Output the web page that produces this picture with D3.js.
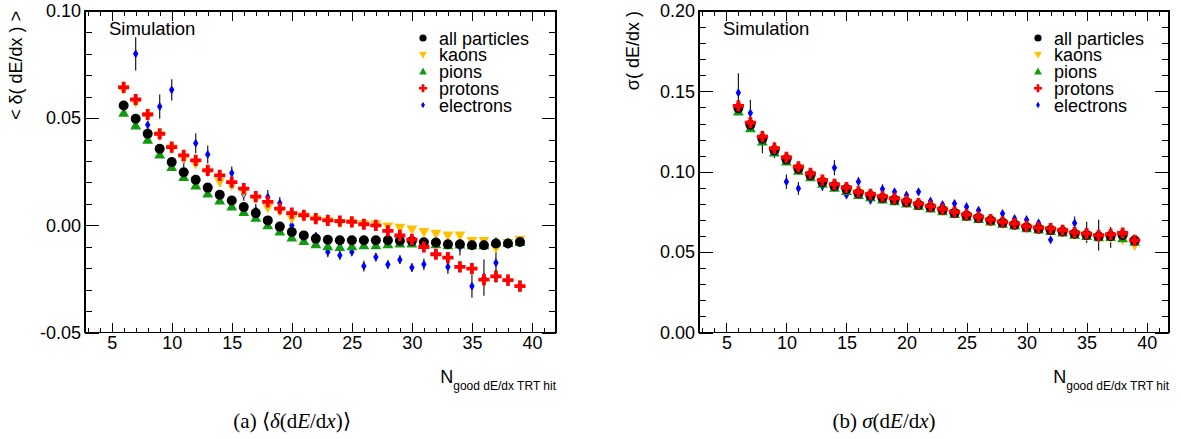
<!DOCTYPE html>
<html>
<head>
<meta charset="utf-8">
<script src="https://cdn.jsdelivr.net/npm/d3@7"></script>
<style>
  body { margin: 0; background: #fff; }
  svg { display: block; }
  text { font-family: "Liberation Sans", Arial, Helvetica, sans-serif; fill: #000; }
  .cap { font-family: "Liberation Serif", "Times New Roman", serif; }
</style>
</head>
<body>
<svg id="fig" width="1181" height="439"></svg>
<script>
// Number of good dE/dx TRT hits per track
const nHits = [6, 7, 8, 9, 10, 11, 12, 13, 14, 15, 16, 17, 18, 19, 20, 21, 22,
               23, 24, 25, 26, 27, 28, 29, 30, 31, 32, 33, 34, 35, 36, 37, 38, 39];

// (a) mean of delta(dE/dx)
const meanAll = [0.0559, 0.0497, 0.0427, 0.0357, 0.0295, 0.0248, 0.0213, 0.0176, 0.0143, 0.0116,
  0.0085, 0.0057, 0.0023, -0.0006, -0.0031, -0.0047, -0.0062, -0.0067, -0.0070, -0.0070,
  -0.0070, -0.0070, -0.0070, -0.0072, -0.0073, -0.0079, -0.0080, -0.0088, -0.0088, -0.0093,
  -0.0093, -0.0085, -0.0085, -0.0078];
const meanKaons = [0.0635, 0.0574, 0.0510, 0.0420, 0.0358, 0.0312, 0.0287, 0.0250, 0.0202, 0.0186,
  0.0155, 0.0124, 0.0082, 0.0067, 0.0031, 0.0042, 0.0027, 0.0020, 0.0011, 0.0011,
  0.0005, 0.0005, -0.0005, -0.0011, -0.0019, -0.0031, -0.0039, -0.0047, -0.0047, -0.0073,
  -0.0073, -0.0106, -0.0082, -0.0067];
const meanPions = [0.0525, 0.0466, 0.0399, 0.0331, 0.0272, 0.0225, 0.0186, 0.0148, 0.0116, 0.0088,
  0.0062, 0.0035, 0.0000, -0.0029, -0.0057, -0.0073, -0.0088, -0.0098, -0.0101, -0.0098,
  -0.0093, -0.0093, -0.0088, -0.0085, -0.0085, -0.0085, -0.0088, -0.0093, -0.0090, -0.0093,
  -0.0093, -0.0078, -0.0083, -0.0078];
const meanProtons = [0.0644, 0.0587, 0.0517, 0.0427, 0.0365, 0.0326, 0.0303, 0.0256, 0.0233, 0.0202,
  0.0171, 0.0134, 0.0109, 0.0078, 0.0057, 0.0047, 0.0031, 0.0023, 0.0020, 0.0016,
  0.0005, 0.0000, -0.0026, -0.0047, -0.0067, -0.0101, -0.0135, -0.0151, -0.0194, -0.0202,
  -0.0253, -0.0238, -0.0256, -0.0284];
const meanProtonsErr = [0.0008, 0.0008, 0.0008, 0.0008, 0.0008, 0.0008, 0.0008, 0.0009, 0.0009, 0.0009,
  0.0009, 0.0010, 0.0010, 0.0010, 0.0010, 0.0010, 0.0011, 0.0011, 0.0012, 0.0012,
  0.0013, 0.0013, 0.0014, 0.0015, 0.0016, 0.0018, 0.0020, 0.0022, 0.0024, 0.0026,
  0.0028, 0.0030, 0.0027, 0.0027];
const meanElectrons = [null, 0.0800, 0.0469, 0.0554, 0.0632, 0.0306, 0.0383, 0.0331, 0.0202, 0.0244,
  0.0145, 0.0070, 0.0132, 0.0104, 0.0000, null, -0.0051, -0.0124, -0.0140, -0.0124,
  -0.0190, -0.0148, -0.0183, -0.0160, -0.0197, -0.0182, null, -0.0194, -0.0101, -0.0284,
  -0.0244, -0.0175, null, null];
const meanElectronsErr = [null, 0.0078, 0.0025, 0.0057, 0.0050, 0.0035, 0.0047, 0.0042, 0.0020, 0.0030,
  0.0030, 0.0030, 0.0033, 0.0028, 0.0020, null, 0.0020, 0.0025, 0.0020, 0.0020,
  0.0025, 0.0020, 0.0020, 0.0020, 0.0020, 0.0027, null, 0.0033, 0.0040, 0.0054,
  0.0085, 0.0052, null, null];

// (b) width of delta(dE/dx)
const sigmaAll = [0.1396, 0.1292, 0.1205, 0.1133, 0.1077, 0.1019, 0.0978, 0.0937, 0.0911, 0.0892,
  0.0866, 0.0851, 0.0837, 0.0826, 0.0811, 0.0795, 0.0779, 0.0762, 0.0744, 0.0727,
  0.0713, 0.0697, 0.0683, 0.0671, 0.0655, 0.0646, 0.0638, 0.0628, 0.0614, 0.0607,
  0.0597, 0.0601, 0.0607, 0.0573];
const sigmaKaons = [0.1385, 0.1285, 0.1205, 0.1135, 0.1078, 0.1020, 0.0978, 0.0938, 0.0910, 0.0891,
  0.0866, 0.0850, 0.0836, 0.0824, 0.0809, 0.0793, 0.0777, 0.0760, 0.0742, 0.0726,
  0.0711, 0.0695, 0.0681, 0.0669, 0.0653, 0.0645, 0.0637, 0.0626, 0.0612, 0.0603,
  0.0594, 0.0590, 0.0577, 0.0542];
const sigmaPions = [0.1375, 0.1271, 0.1188, 0.1119, 0.1063, 0.1006, 0.0966, 0.0926, 0.0900, 0.0881,
  0.0856, 0.0842, 0.0828, 0.0817, 0.0802, 0.0787, 0.0771, 0.0754, 0.0737, 0.0720,
  0.0706, 0.0690, 0.0676, 0.0665, 0.0649, 0.0640, 0.0632, 0.0622, 0.0608, 0.0601,
  0.0592, 0.0594, 0.0586, 0.0565];
const sigmaProtons = [0.1410, 0.1306, 0.1219, 0.1146, 0.1090, 0.1031, 0.0990, 0.0948, 0.0921, 0.0902,
  0.0875, 0.0860, 0.0846, 0.0834, 0.0819, 0.0802, 0.0786, 0.0768, 0.0750, 0.0733,
  0.0719, 0.0702, 0.0688, 0.0677, 0.0660, 0.0652, 0.0646, 0.0636, 0.0621, 0.0615,
  0.0604, 0.0610, 0.0619, 0.0573];
const sigmaElectrons = [0.1492, 0.1365, 0.1185, 0.1136, 0.0938, 0.0896, 0.0985, 0.0910, 0.1025, 0.0856,
  0.0938, 0.0823, 0.0892, 0.0875, 0.0854, 0.0875, 0.0817, 0.0795, 0.0802, 0.0783,
  0.0760, 0.0700, 0.0740, 0.0708, 0.0702, 0.0681, 0.0577, 0.0636, 0.0681, 0.0623,
  0.0606, 0.0592, null, null];
const sigmaElectronsErr = [0.0120, 0.0083, 0.0070, 0.0050, 0.0045, 0.0040, 0.0030, 0.0030, 0.0047, 0.0025,
  0.0030, 0.0025, 0.0030, 0.0020, 0.0020, 0.0020, 0.0020, 0.0020, 0.0020, 0.0020,
  0.0020, 0.0020, 0.0020, 0.0020, 0.0020, 0.0020, 0.0020, 0.0030, 0.0040, 0.0066,
  0.0096, 0.0065, null, null];

// Legend entries, in legend order
const legendLabels = ["all particles", "kaons", "pions", "protons", "electrons"];

// Axis ticks
const xMajorTicks = [5, 10, 15, 20, 25, 30, 35, 40];
const xMinorTicks = [3, 4, 6, 7, 8, 9, 11, 12, 13, 14, 16, 17, 18, 19, 21, 22, 23, 24,
                     26, 27, 28, 29, 31, 32, 33, 34, 36, 37, 38, 39, 41];
const yMajorTicksA = [-0.05, 0.00, 0.05, 0.10];
const yTickLabelsA = ["-0.05", "0.00", "0.05", "0.10"];
const yMinorTicksA = [-0.04, -0.03, -0.02, -0.01, 0.01, 0.02, 0.03, 0.04, 0.06, 0.07, 0.08, 0.09];
const yMajorTicksB = [0.00, 0.05, 0.10, 0.15, 0.20];
const yTickLabelsB = ["0.00", "0.05", "0.10", "0.15", "0.20"];
const yMinorTicksB = [0.01, 0.02, 0.03, 0.04, 0.06, 0.07, 0.08, 0.09, 0.11, 0.12, 0.13, 0.14,
                      0.16, 0.17, 0.18, 0.19];

// Marker shapes (s = scale factor)
const shapes = {
  circle:  s => d3.symbol(d3.symbolCircle, Math.PI * (5 * s) * (5 * s))(),
  triUp:   s => `M0,${-5.6 * s}L${5.4 * s},${4 * s}L${-5.4 * s},${4 * s}Z`,
  triDown: s => `M0,${5.6 * s}L${5.4 * s},${-4 * s}L${-5.4 * s},${-4 * s}Z`,
  cross:   s => { const a = 5.6 * s, b = 1.9 * s;
    return `M${-b},${-a}H${b}V${-b}H${a}V${b}H${b}V${a}H${-b}V${b}H${-a}V${-b}H${-b}Z`; },
  diamond: s => `M0,${-4.6 * s}L${2.7 * s},0L0,${4.6 * s}L${-2.7 * s},0Z`
};
const styles = [
  { shape: "circle",  color: "#000000" },
  { shape: "triDown", color: "#ffc200" },
  { shape: "triUp",   color: "#109a10" },
  { shape: "cross",   color: "#ff0000" },
  { shape: "diamond", color: "#0000ff" }
];
// drawing order: electrons, kaons, pions, all, protons
const drawOrder = [4, 1, 2, 0, 3];

const panels = [
  {
    x0: 85, x1: 556, xDomain: [2.78, 42.0],
    yDomain: [-0.05, 0.10],
    yMajor: yMajorTicksA, yLabels: yTickLabelsA, yMinor: yMinorTicksA,
    yTitle: "< \u03b4( dE/dx ) >", yTitleX: 22,
    legendX: 423,
    series: [
      { values: meanAll },
      { values: meanKaons },
      { values: meanPions },
      { values: meanProtons, errors: meanProtonsErr },
      { values: meanElectrons, errors: meanElectronsErr }
    ],
    caption: [["(a) \u27e8", ""], ["\u03b4", "i"], ["(d", ""], ["E", "i"], ["/d", ""], ["x", "i"], [")\u27e9", ""]],
    captionX: 292
  },
  {
    x0: 699, x1: 1169, xDomain: [2.72, 41.86],
    yDomain: [0, 0.20],
    yMajor: yMajorTicksB, yLabels: yTickLabelsB, yMinor: yMinorTicksB,
    yTitle: "\u03c3( dE/dx )", yTitleX: 639,
    legendX: 1038,
    series: [
      { values: sigmaAll },
      { values: sigmaKaons },
      { values: sigmaPions },
      { values: sigmaProtons },
      { values: sigmaElectrons, errors: sigmaElectronsErr }
    ],
    caption: [["(b) ", ""], ["\u03c3", "i"], ["(d", ""], ["E", "i"], ["/d", ""], ["x", "i"], [")", ""]],
    captionX: 884
  }
];

const yTop = 11, yBottom = 332.5;
const svg = d3.select("#fig");

panels.forEach(p => {
  const x = d3.scaleLinear().domain(p.xDomain).range([p.x0, p.x1]);
  const y = d3.scaleLinear().domain(p.yDomain).range([yBottom, yTop]);
  const g = svg.append("g");

  // ticks on all four sides
  const axes = g.append("g").attr("shape-rendering", "crispEdges");
  const styleAxis = sel => {
    sel.select(".domain").remove();
    sel.selectAll("line").attr("stroke", "#000").attr("stroke-width", 1);
  };
  axes.append("g").attr("transform", `translate(0,${yBottom})`)
    .call(d3.axisBottom(x).tickValues(xMajorTicks).tickSize(-10).tickPadding(4))
    .call(styleAxis)
    .call(s => s.selectAll("text").attr("font-size", 18).attr("fill", "#000")
      .attr("font-family", "Liberation Sans, Arial, sans-serif"));
  axes.append("g").attr("transform", `translate(0,${yBottom})`)
    .call(d3.axisBottom(x).tickValues(xMinorTicks).tickSize(-5).tickFormat(""))
    .call(styleAxis);
  axes.append("g").attr("transform", `translate(0,${yTop})`)
    .call(d3.axisTop(x).tickValues(xMajorTicks).tickSize(-10).tickFormat(""))
    .call(styleAxis);
  axes.append("g").attr("transform", `translate(0,${yTop})`)
    .call(d3.axisTop(x).tickValues(xMinorTicks).tickSize(-5).tickFormat(""))
    .call(styleAxis);
  axes.append("g").attr("transform", `translate(${p.x0},0)`)
    .call(d3.axisLeft(y).tickValues(p.yMajor).tickSize(-14).tickPadding(4)
      .tickFormat((d, i) => p.yLabels[i]))
    .call(styleAxis)
    .call(s => s.selectAll("text").attr("font-size", 18).attr("fill", "#000")
      .attr("font-family", "Liberation Sans, Arial, sans-serif"));
  axes.append("g").attr("transform", `translate(${p.x0},0)`)
    .call(d3.axisLeft(y).tickValues(p.yMinor).tickSize(-7).tickFormat(""))
    .call(styleAxis);
  axes.append("g").attr("transform", `translate(${p.x1},0)`)
    .call(d3.axisRight(y).tickValues(p.yMajor).tickSize(-14).tickFormat(""))
    .call(styleAxis);
  axes.append("g").attr("transform", `translate(${p.x1},0)`)
    .call(d3.axisRight(y).tickValues(p.yMinor).tickSize(-7).tickFormat(""))
    .call(styleAxis);

  // frame
  axes.append("rect")
    .attr("x", p.x0).attr("y", yTop)
    .attr("width", p.x1 - p.x0).attr("height", yBottom - yTop)
    .attr("fill", "none").attr("stroke", "#000").attr("stroke-width", 1.2);

  // data: error bars then markers, series by series
  drawOrder.forEach(si => {
    const s = p.series[si];
    const st = styles[si];
    const pts = nHits.map((n, i) => ({ n, v: s.values[i], e: s.errors ? s.errors[i] : null }))
      .filter(d => d.v !== null);
    const sg = g.append("g");
    sg.selectAll("line.err").data(pts.filter(d => d.e !== null))
      .join("line").attr("class", "err")
      .attr("x1", d => x(d.n)).attr("x2", d => x(d.n))
      .attr("y1", d => y(d.v - d.e)).attr("y2", d => y(d.v + d.e))
      .attr("stroke", "#1a1a1a").attr("stroke-width", 1.2);
    sg.selectAll("path.mk").data(pts)
      .join("path").attr("class", "mk")
      .attr("d", shapes[st.shape](1))
      .attr("transform", d => `translate(${x(d.n)},${y(d.v)})`)
      .attr("fill", st.color);
  });

  // "Simulation" label
  g.append("text").attr("x", p.x0 + 24).attr("y", 35)
    .attr("font-size", 18.5).text("Simulation");

  // legend
  legendLabels.forEach((lab, i) => {
    const cy = 38 + i * 16.75;
    g.append("path").attr("d", shapes[styles[i].shape](0.72))
      .attr("transform", `translate(${p.legendX},${cy})`)
      .attr("fill", styles[i].color);
    g.append("text").attr("x", p.legendX + 16).attr("y", cy + 6.5)
      .attr("font-size", 18).text(lab);
  });

  // y-axis title (aligned to top end of the axis)
  g.append("text")
    .attr("transform", `translate(${p.yTitleX},${yTop}) rotate(-90)`)
    .attr("text-anchor", "end").attr("font-size", 18).text(p.yTitle);

  // x-axis title (aligned to right end of the axis)
  const xt = g.append("text").attr("x", p.x1).attr("y", 383)
    .attr("text-anchor", "end").attr("font-size", 18);
  xt.append("tspan").text("N");
  xt.append("tspan").attr("font-size", 12).attr("dy", 6.5).text("good dE/dx TRT hit");

  // sub-figure caption
  const ct = g.append("text").attr("class", "cap").attr("x", p.captionX).attr("y", 428)
    .attr("text-anchor", "middle").attr("font-size", 21);
  p.caption.forEach(([t, style]) => {
    const ts = ct.append("tspan").text(t);
    if (style === "i") ts.attr("font-style", "italic");
  });
});
</script>
</body>
</html>
